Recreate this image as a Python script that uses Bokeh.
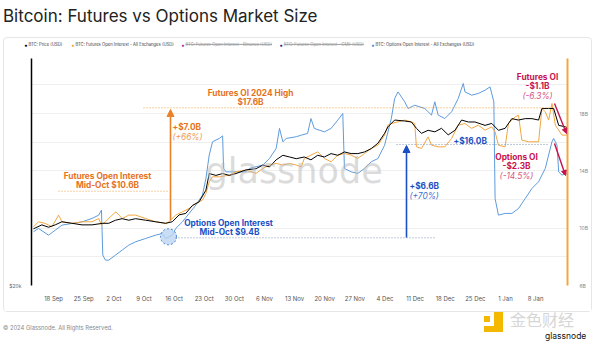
import pandas as pd
from bokeh.plotting import figure
from bokeh.layouts import column
from bokeh.models import (Range1d, LogAxis, LogScale, FixedTicker, Label, Arrow,
                          NormalHead, CustomJSTickFormatter, Div)
from bokeh.embed import file_html
from bokeh.resources import INLINE

# ---------------- data (day offsets from 18 Sep 2023) ----------------
START = "2023-09-18"

price_pts = [(-4.67, 26200), (-2.72, 26700), (-1.17, 26400), (0.39, 26700), (1.94, 27100),
             (4.28, 26900), (6.61, 26700), (8.94, 26700), (11.44, 26900), (12.83, 26900),
             (14.39, 27300), (15.94, 27500), (17.5, 27300), (19.06, 27500), (21.39, 27300),
             (23.7, 27100), (26.06, 26900), (27.6, 27100), (29.17, 28000), (30.72, 28200),
             (32.28, 29300), (33.83, 29800), (35.4, 31500), (36.17, 34100), (37.72, 33800),
             (39.28, 34100), (40.83, 33800), (42.39, 34100), (44.72, 34700), (47.06, 34900),
             (48.61, 35500), (50.17, 35200), (51.72, 36400), (53.28, 37200), (54.83, 36900),
             (56.39, 36600), (58.26, 36900), (59.81, 36400), (61.37, 37200), (62.92, 36900),
             (64.48, 37500), (66.03, 37200), (67.59, 37800), (69.14, 37500), (70.7, 37500),
             (72.26, 37800), (73.81, 38400), (75.37, 39400), (76.92, 41300), (77.7, 42600),
             (79.26, 44000), (81.59, 43800), (83.14, 43600), (84.31, 42300), (85.48, 41300),
             (87.03, 41900), (88.59, 41600), (90.14, 42300), (91.7, 41000), (93.26, 41900),
             (94.81, 44000), (96.37, 43600), (97.92, 43600), (100.26, 42900), (101.81, 43300),
             (103.37, 41900), (104.92, 42300), (106.48, 44300), (108.03, 44000), (109.59, 44300),
             (111.15, 44300), (112.7, 44000), (113.48, 46500), (115.03, 46500), (116.2, 46500),
             (117.37, 42900), (118.92, 42600), (119.7, 42300)]

futures_pts = [(-4.67, 10.29), (-3.5, 10.6), (-1.94, 10.5), (-0.39, 10.29), (1.17, 11.01),
               (1.94, 10.6), (4.28, 10.5), (6.61, 10.6), (8.94, 10.6), (10.5, 10.8),
               (11.13, 10.4), (12.06, 10.6), (13.6, 11.01), (14.5, 11.21), (15.94, 10.8),
               (17.5, 11.01), (19.06, 11.01), (21.39, 10.8), (23.7, 10.6), (26.06, 10.5),
               (26.83, 10.6), (28.39, 11.01), (29.94, 11.21), (31.5, 11.42), (33.06, 11.72),
               (34.6, 11.93), (35.4, 12.34), (36.17, 13.05), (36.94, 13.36), (38.5, 13.36),
               (40.83, 13.46), (42.39, 13.67), (44.72, 13.77), (47.06, 13.57), (48.61, 13.87),
               (50.17, 14.08), (51.72, 14.18), (53.28, 14.08), (54.83, 14.18), (56.39, 14.08),
               (57.56, 13.97), (58.26, 14.49), (59.81, 14.69), (61.37, 14.89), (62.92, 14.49),
               (64.48, 14.28), (66.03, 14.69), (67.59, 14.79), (69.14, 14.69), (70.7, 14.49),
               (72.26, 14.79), (73.81, 15.10), (75.37, 15.30), (76.92, 15.92), (77.7, 16.53),
               (78.48, 16.63), (80.03, 16.73), (81.59, 16.84), (83.14, 16.73), (83.92, 16.63),
               (84.31, 15.2), (85.48, 15.1), (87.03, 15.81), (87.81, 15.3), (89.37, 15.2),
               (90.92, 15.2), (92.48, 15.71), (94.03, 16.53), (95.59, 16.63), (97.14, 16.33),
               (98.7, 16.53), (100.26, 16.22), (101.81, 16.43), (102.59, 16.12), (103.37, 15.3),
               (104.92, 15.2), (105.7, 16.63), (107.26, 17.04), (108.03, 17.14), (108.81, 15.61),
               (110.37, 15.51), (112.7, 15.51), (113.48, 17.55), (114.26, 17.35), (115.03, 16.84),
               (115.81, 17.86), (116.59, 16.53), (118.14, 15.92), (119.7, 15.92)]

options_pts = [(-4.67, 9.75), (-3.5, 9.98), (-1.17, 9.51), (0.39, 9.86), (1.94, 10.21),
               (4.28, 10.33), (6.61, 10.44), (8.94, 10.68), (10.5, 10.91), (11.13, 11.26),
               (11.44, 8.12), (12.06, 7.77), (12.83, 7.77), (14.39, 8.12), (15.94, 8.47),
               (17.5, 8.82), (19.06, 9.05), (21.39, 9.28), (23.7, 9.51), (25.28, 9.63),
               (26.06, 9.28), (27.6, 9.51), (28.39, 9.98), (29.94, 10.44), (31.5, 11.03),
               (33.06, 11.61), (34.6, 12.31), (35.4, 13.47), (36.17, 15.10), (36.94, 16.03),
               (38.5, 16.26), (39.28, 16.44), (39.5, 14.17), (40.06, 13.93), (42.39, 13.93),
               (44.72, 13.93), (45.5, 14.17), (48.61, 14.40), (50.17, 14.86), (51.72, 15.56),
               (52.5, 16.96), (53.28, 16.03), (54.06, 16.26), (56.39, 16.38), (57.56, 16.49),
               (59.03, 16.61), (59.81, 17.65), (60.59, 16.96), (62.92, 16.72), (64.48, 16.96),
               (66.03, 17.54), (67.2, 18.0), (67.59, 14.17), (69.14, 13.93), (70.7, 13.82),
               (72.26, 14.17), (73.81, 14.63), (75.37, 14.86), (76.92, 15.79), (78.48, 17.65),
               (79.26, 19.05), (80.03, 19.51), (81.59, 18.82), (82.37, 18.35), (83.92, 18.58),
               (86.26, 18.35), (87.81, 17.89), (88.59, 18.82), (89.37, 17.89), (90.92, 17.65),
               (92.48, 18.12), (94.03, 19.05), (95.2, 20.1), (95.59, 19.51), (97.14, 19.28),
               (98.7, 19.40), (100.26, 19.63), (101.42, 19.86), (102.3, 18.82), (102.59, 12.07),
               (103.37, 10.91), (104.92, 11.03), (106.48, 11.03), (108.03, 11.37), (109.59, 12.07),
               (111.15, 12.77), (112.7, 13.24), (114.26, 14.17), (115.03, 15.10), (115.81, 16.03),
               (116.2, 16.26), (116.98, 15.79), (117.37, 13.93), (118.14, 13.70), (118.92, 13.82),
               (119.7, 13.70)]

tick_dates = ["2023-09-18", "2023-09-25", "2023-10-02", "2023-10-09", "2023-10-16",
              "2023-10-23", "2023-10-30", "2023-11-06", "2023-11-13", "2023-11-20",
              "2023-11-27", "2023-12-04", "2023-12-11", "2023-12-18", "2023-12-25",
              "2024-01-01", "2024-01-08"]
tick_labels = ["18 Sep", "25 Sep", "2 Oct", "9 Oct", "16 Oct", "23 Oct", "30 Oct", "6 Nov",
               "13 Nov", "20 Nov", "27 Nov", "4 Dec", "11 Dec", "18 Dec", "25 Dec", "1 Jan", "8 Jan"]
oi_ticks = [6, 8, 10, 12, 14, 16, 18, 20]
oi_labels = {6: "6B", 8: "", 10: "10B", 12: "", 14: "14B", 16: "", 18: "18B", 20: ""}
price_ticks = [20000]
price_labels = {20000: "$20k"}

legend_names = ["BTC: Price (USD)",
                "BTC: Futures Open Interest - All Exchanges (USD)",
                "BTC: Futures Open Interest - Binance (USD)",
                "BTC: Futures Open Interest - CME (USD)",
                "BTC: Options Open Interest - All Exchanges (USD)"]
legend_hidden = [False, False, True, True, False]

options_mid_oct = ("2023-10-14 17:00", 9.4)

# ---------------- helpers ----------------
def to_dt(days):
    return pd.Timestamp(START) + pd.to_timedelta(days, unit="D")

def unzip(pts):
    d = [a for a, _ in pts]
    v = [b for _, b in pts]
    return to_dt(d), v

px, pv = unzip(price_pts)
fx, fv = unzip(futures_pts)
ox, ov = unzip(options_pts)

ORANGE_T = "#E5731D"
BLUE_T = "#1B4FC4"
CRIM = "#C8124E"
FONT = "Inter"

# canvas geometry: figure placed at canvas (4, 58); frame at canvas x 31..567, y 58..285
FX0, FY0 = 4, 58
L, B = 31, 285

OI_RANGE = (6, 21.84)
FUT_RANGE = (6.69, 20.62)
PRICE_RANGE = (20000, 59000)

p = figure(width=587, height=253, x_axis_type="datetime", y_axis_location="right",
           x_range=Range1d(pd.Timestamp("2023-09-12 21:00"), pd.Timestamp("2024-01-15 10:00")),
           y_range=Range1d(*OI_RANGE),
           output_backend="svg", toolbar_location=None,
           min_border_left=L - FX0, min_border_right=591 - 567, min_border_top=0,
           min_border_bottom=311 - B, margin=0)
p.extra_y_ranges = {"fut": Range1d(*FUT_RANGE), "price": Range1d(*PRICE_RANGE)}
p.extra_y_scales = {"price": LogScale()}
p.outline_line_color = None
p.background_fill_color = "white"
p.border_fill_color = "white"

# x axis
tick_ms = [pd.Timestamp(t).value / 1e6 for t in tick_dates]
p.xaxis.ticker = FixedTicker(ticks=tick_ms)
p.xaxis.formatter = CustomJSTickFormatter(args=dict(tvals=tick_ms, tlabels=tick_labels), code="""
    for (let i = 0; i < tvals.length; i++) { if (Math.abs(tvals[i] - tick) < 1000) return tlabels[i]; }
    return "";
""")
p.xaxis.axis_line_color = None
p.xaxis.major_tick_line_color = None
p.xaxis.minor_tick_line_color = None
p.xaxis.major_label_text_font = FONT
p.xaxis.major_label_text_font_size = "6px"
p.xaxis.major_label_text_color = "#555555"
p.xaxis.major_label_standoff = 3

# right axis (options OI scale)
p.yaxis.ticker = FixedTicker(ticks=oi_ticks)
p.yaxis.bounds = OI_RANGE
p.yaxis.major_label_overrides = oi_labels
p.yaxis.axis_line_color = "#F2A641"
p.yaxis.axis_line_width = 2
p.yaxis.major_tick_line_color = None
p.yaxis.minor_tick_line_color = None
p.yaxis.major_label_text_font = FONT
p.yaxis.major_label_text_font_size = "5px"
p.yaxis.major_label_text_color = "#888888"
p.yaxis.major_label_text_baseline = "bottom"
p.yaxis.major_label_standoff = 6

# left axis (price, log)
la = LogAxis(y_range_name="price", ticker=FixedTicker(ticks=price_ticks), bounds=PRICE_RANGE)
la.major_label_overrides = price_labels
la.axis_line_color = "black"
la.axis_line_width = 1.5
la.major_tick_line_color = None
la.minor_tick_line_color = None
la.major_label_text_font = FONT
la.major_label_text_font_size = "5px"
la.major_label_text_color = "#666666"
la.major_label_text_baseline = "bottom"
la.major_label_standoff = 4
p.add_layout(la, "left")

p.xgrid.grid_line_color = None
p.ygrid.grid_line_color = "#EFEFEF"

# series
p.line(ox, ov, color="#5E9BDB", line_width=1)
p.line(fx, fv, y_range_name="fut", color="#F2A641", line_width=1)
p.line(px, pv, y_range_name="price", color="black", line_width=1)

# highlight circle at options mid-Oct
p.scatter([pd.Timestamp(options_mid_oct[0])], [options_mid_oct[1]], size=16, marker="circle",
          fill_color="#BBD6F3", fill_alpha=0.8, line_color="#3E7FD0", line_dash="2 2", line_width=1)

# ---------------- annotations inside the plot (canvas pixel positions) ----------------
def lab(text, cx, cy, size, color, style="normal", align="left", font=FONT, alpha=1.0, baseline="middle"):
    p.add_layout(Label(x=cx - L, y=B - cy, x_units="screen", y_units="screen", text=text,
                       text_font=font, text_font_size=f"{size}px", text_color=color,
                       text_font_style=style, text_align=align, text_baseline=baseline,
                       text_alpha=alpha))

def seg(x0, y0, x1, y1, color, width=1.0, dash="solid", head=None):
    p.add_layout(Arrow(x_start=x0 - L, y_start=B - y0, x_end=x1 - L, y_end=B - y1,
                       start_units="screen", end_units="screen", line_color=color,
                       line_width=width, line_dash=dash, end=head))

# watermark
lab("glassnode", 205, 170, 35, "#BDBDBD", alpha=0.55, font="DejaVu Sans")

# futures OI 2024 high
seg(143, 107.3, 549, 107.3, "#F0A040", 1, "1 2")
lab("Futures OI 2024 High", 250, 92, 8.3, ORANGE_T, "bold", "center")
lab("$17.6B", 250, 101, 8.3, ORANGE_T, "bold", "center")

# futures mid-Oct
seg(58, 190.7, 168, 190.7, "#F0A040", 1, "1 2")
lab("Futures Open Interest", 107, 175, 8.3, ORANGE_T, "bold", "center")
lab("Mid-Oct $10.6B", 107, 184, 8.3, ORANGE_T, "bold", "center")
seg(170, 220, 170, 109, "#E9822A", 1.6, "solid",
    NormalHead(size=7, fill_color="#E9822A", line_color="#E9822A"))
lab("+$7.0B", 172, 126, 8.3, ORANGE_T, "bold")
lab("(+66%)", 172, 136, 8.3, "#EE9A55", "italic")

# options mid-Oct
seg(175, 237.3, 436, 237.3, "#7F97B5", 1, "1 2")
lab("Options Open Interest", 228, 222, 8.3, BLUE_T, "bold", "center")
lab("Mid-Oct $9.4B", 229, 231, 8.3, BLUE_T, "bold", "center")
seg(406, 237, 406, 145, "#1B4FC4", 1.6, "solid",
    NormalHead(size=7, fill_color="#1B4FC4", line_color="#1B4FC4"))
lab("+$6.6B", 409, 185, 8.3, BLUE_T, "bold")
lab("(+70%)", 409, 195, 8.3, "#3E6FD0", "italic")

# options high
seg(396, 144, 549, 144, "#7F97B5", 1, "1 2")
lab("+$16.0B", 453, 140, 8.3, BLUE_T, "bold")

# right-side declines
lab("Futures OI", 537, 76, 8.3, CRIM, "bold", "center")
lab("-$1.1B", 537, 85, 8.3, CRIM, "bold", "center")
lab("(-6.3%)", 537, 95, 8.3, "#D85585", "italic", "center")
seg(554, 103, 566, 133, CRIM, 1.4, "solid", NormalHead(size=5, fill_color=CRIM, line_color=CRIM))

lab("Options OI", 516, 156, 8.3, CRIM, "bold", "center")
lab("-$2.3B", 516, 165, 8.3, CRIM, "bold", "center")
lab("(-14.5%)", 516, 175, 8.3, "#D85585", "italic", "center")
seg(554, 143, 565, 175, CRIM, 1.4, "solid", NormalHead(size=5, fill_color=CRIM, line_color=CRIM))

# ---------------- HTML parts: title, legend row, footer ----------------
def span(x, y, text, style, translate="translate(0,-50%)"):
    return (f'<span style="position:absolute;left:{x}px;top:{y}px;transform:{translate};'
            f'white-space:nowrap;line-height:1;{style}">{text}</span>')

title_div = Div(width=600, height=37, margin=0, text=(
    '<div style="position:relative;width:600px;height:37px;">'
    + span(3, 16, "Bitcoin: Futures vs Options Market Size",
           f"font-family:{FONT};font-size:17px;color:#222222;")
    + '</div>'))

legend_colors = ["#000000", "#F2A641", "#A02DB5", "#1A2A8C", "#4A8FDC"]
legend_dot_x = [25.7, 72.7, 182.7, 281.0, 372.7]
parts = []
for name, hid, col, dx in zip(legend_names, legend_hidden, legend_colors, legend_dot_x):
    x = dx - FX0
    parts.append(span(x, 7, "\u25CF", f"font-size:5px;color:{col};", "translate(-50%,-50%)"))
    deco = "text-decoration:line-through;color:#A0A0A0;" if hid else "color:#3A3A3A;"
    parts.append(span(x + 2.8, 7, name, f"font-family:{FONT};font-size:4.2px;{deco}"))
legend_div = Div(width=587, height=20, margin=0, text=(
    '<div style="position:relative;width:587px;height:20px;">' + "".join(parts) + '</div>'))

footer_div = Div(width=600, height=32, margin=0, text=(
    '<div style="position:relative;width:600px;height:32px;">'
    + span(3, 16, "\u00a9 2024 Glassnode. All Rights Reserved.",
           f"font-family:{FONT};font-size:5.8px;color:#8A8A8A;")
    + '<div style="position:absolute;left:484px;top:4px;width:6px;height:6px;background:#F5B800;"></div>'
    + '<div style="position:absolute;left:494px;top:0px;width:9px;height:20px;background:#F5B800;"></div>'
    + '<div style="position:absolute;left:484px;top:14px;width:19px;height:6px;background:#F5B800;"></div>'
    + span(510, 7, "\u91d1\u8272\u8d22\u7ecf", "font-family:'Noto Sans CJK SC';font-size:16px;color:#D6D6D6;")
    + span(545, 24, "glassnode", f"font-family:{FONT};font-size:8.5px;color:#111111;")
    + '</div>'))

panel = column(legend_div, p, margin=(0, 0, 0, 3),
               styles={"border": "1px solid #E6E6E6", "border-radius": "4px"})
layout = column(title_div, panel, footer_div, margin=0)

open("out.html", "w").write(file_html(layout, INLINE))
